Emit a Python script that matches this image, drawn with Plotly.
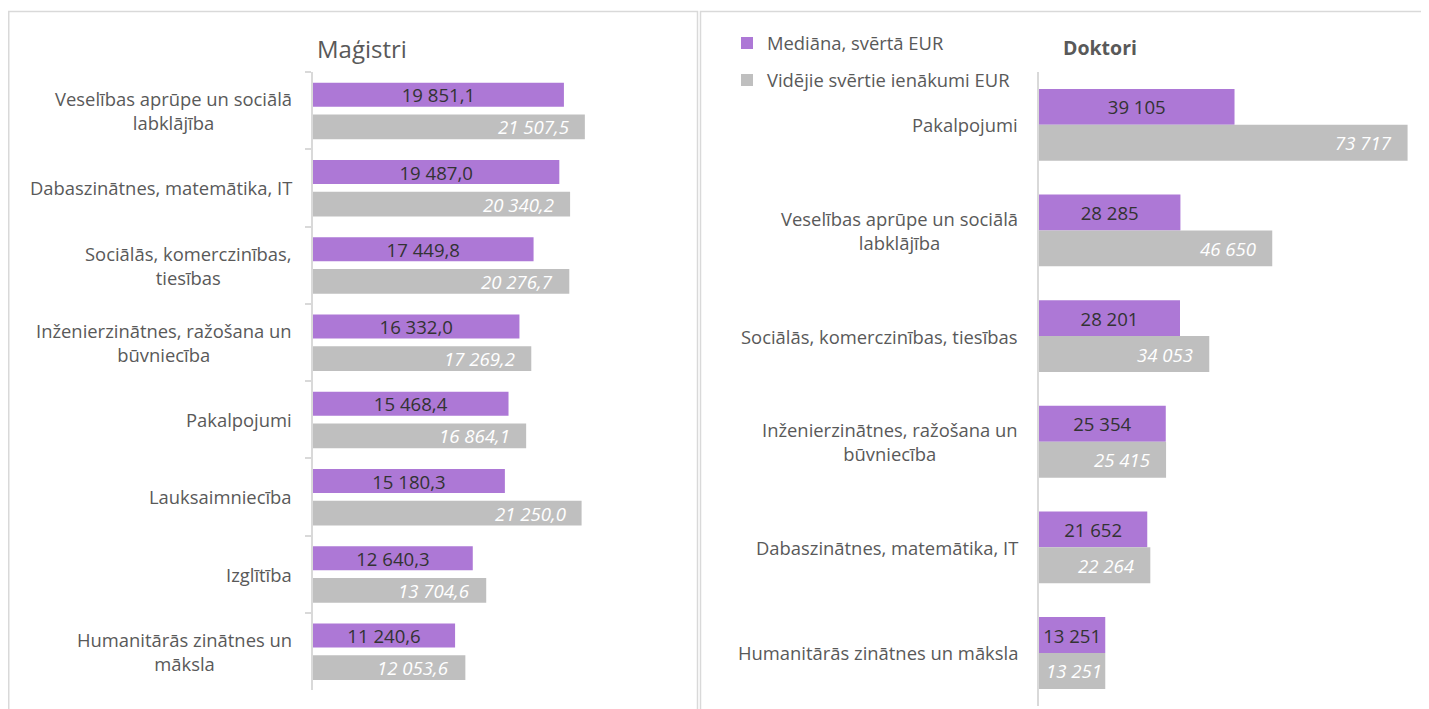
import plotly.graph_objects as go

# The page body has an 8 px margin, so the figure starts at (8, 8) in the window.
OX, OY = 8, 8
W, H = 1421, 701

# ---- data ----
mag_categories = [
    "Veselības aprūpe un sociālā<br>labklājība",
    "Dabaszinātnes, matemātika, IT",
    "Sociālās, komerczinības,<br>tiesības",
    "Inženierzinātnes, ražošana un<br>būvniecība",
    "Pakalpojumi",
    "Lauksaimniecība",
    "Izglītība",
    "Humanitārās zinātnes un<br>māksla",
]
mag_median = [19851.1, 19487.0, 17449.8, 16332.0, 15468.4, 15180.3, 12640.3, 11240.6]
mag_mean = [21507.5, 20340.2, 20276.7, 17269.2, 16864.1, 21250.0, 13704.6, 12053.6]

dok_categories = [
    "Pakalpojumi",
    "Veselības aprūpe un sociālā<br>labklājība",
    "Sociālās, komerczinības, tiesības",
    "Inženierzinātnes, ražošana un<br>būvniecība",
    "Dabaszinātnes, matemātika, IT",
    "Humanitārās zinātnes un māksla",
]
dok_median = [39105, 28285, 28201, 25354, 21652, 13251]
dok_mean = [73717, 46650, 34053, 25415, 22264, 13251]

series_names = ["Mediāna, svērtā EUR", "Vidējie svērtie ienākumi EUR"]

# ---- styles ----
PURPLE = "#AD78D6"
GREY = "#BFBFBF"
TXT = "#595959"
DARK = "#333333"
LINE = "#D9D9D9"
FONT = "Open Sans"
CAT_SIZE = 18.4
VAL_SIZE = 18.6

MAG_X0, MAG_X1, MAG_MAX = 313, 629, 25000
DOK_X0, DOK_X1, DOK_MAX = 1039, 1414, 75000


def fmt(v, d):
    s = f"{v:,.{d}f}"
    return s.replace(",", " ").replace(".", ",")


def px_x(p):
    return (p - OX) / W


def px_y(p):
    return 1 - (p - OY) / H


# rough Open Sans italic advance widths (em) for label fitting
def text_w(s, size):
    w = 0.0
    for ch in s:
        if ch.isdigit():
            w += 0.56
        elif ch == " ":
            w += 0.26
        else:
            w += 0.25
    return w * size


fig = go.Figure()

# Left panel (Maģistri)
fig.add_trace(go.Bar(
    y=mag_categories, x=mag_median, orientation="h", name=series_names[0],
    marker=dict(color=PURPLE, line=dict(width=0)),
    text=[fmt(v, 1) for v in mag_median], textposition="inside",
    insidetextanchor="middle", textfont=dict(color=DARK, size=VAL_SIZE, family=FONT),
    width=0.31, offset=-0.36, xaxis="x", yaxis="y", showlegend=False,
))
fig.add_trace(go.Bar(
    y=mag_categories, x=mag_mean, orientation="h", name=series_names[1],
    marker=dict(color=GREY, line=dict(width=0)),
    width=0.32, offset=0.05, xaxis="x", yaxis="y", showlegend=False,
))

# Right panel (Doktori)
fig.add_trace(go.Bar(
    y=dok_categories, x=dok_median, orientation="h", name=series_names[0],
    marker=dict(color=PURPLE, line=dict(width=0)),
    text=[fmt(v, 0) for v in dok_median], textposition="inside",
    insidetextanchor="middle", textfont=dict(color=DARK, size=VAL_SIZE, family=FONT),
    width=0.34, offset=-0.34, xaxis="x2", yaxis="y2", legend="legend",
))
fig.add_trace(go.Bar(
    y=dok_categories, x=dok_mean, orientation="h", name=series_names[1],
    marker=dict(color=GREY, line=dict(width=0)),
    width=0.34, offset=0.0, xaxis="x2", yaxis="y2", legend="legend2",
))

annotations = []

# grey (mean) value labels: inside end, centred if they do not fit
def grey_labels(cats, vals, dec, xref, yref, px_per_unit, off_center):
    for c, v in zip(cats, vals):
        s = fmt(v, dec)
        bar_px = v * px_per_unit
        tw = text_w(s, VAL_SIZE)
        if bar_px >= tw + 30:
            ax, xanchor, xs = v, "right", -14
        else:
            ax, xanchor, xs = v / 2, "center", 2
        annotations.append(dict(
            text=s, x=ax, xref=xref, y=c, yref=yref, xanchor=xanchor, xshift=xs,
            yanchor="middle", yshift=off_center, showarrow=False,
            font=dict(family=FONT, size=VAL_SIZE, color="white", style="italic"),
        ))


mag_band = (690 - 72) / len(mag_categories)
dok_band = (705.8 - 72) / len(dok_categories)
grey_labels(mag_categories, mag_mean, 1, "x", "y",
            (MAG_X1 - MAG_X0) / MAG_MAX, -(0.05 + 0.16) * mag_band)
grey_labels(dok_categories, dok_mean, 0, "x2", "y2",
            (DOK_X1 - DOK_X0) / DOK_MAX, -0.17 * dok_band)

for c in mag_categories:
    annotations.append(dict(
        text=c, x=px_x(294), xref="paper", y=c, yref="y", xanchor="right",
        yanchor="middle", align="center", showarrow=False,
        font=dict(family=FONT, size=CAT_SIZE, color=TXT),
    ))
for c in dok_categories:
    annotations.append(dict(
        text=c, x=px_x(1020), xref="paper", y=c, yref="y2", xanchor="right",
        yanchor="middle", align="center", showarrow=False,
        font=dict(family=FONT, size=CAT_SIZE, color=TXT),
    ))
annotations.append(dict(
    text="Maģistri", x=px_x(362), y=px_y(48), xref="paper", yref="paper",
    xanchor="center", yanchor="middle", showarrow=False,
    font=dict(family=FONT, size=24, color=TXT),
))
annotations.append(dict(
    text="<b>Doktori</b>", x=px_x(1100), y=px_y(47), xref="paper", yref="paper",
    xanchor="center", yanchor="middle", showarrow=False,
    font=dict(family=FONT, size=19.5, color=TXT),
))

shapes = [
    dict(type="rect", xref="paper", yref="paper", x0=px_x(8.75), x1=px_x(697.5),
         y0=px_y(716), y1=px_y(11.5), line=dict(color=LINE, width=1.5), layer="below"),
    dict(type="rect", xref="paper", yref="paper", x0=px_x(700.5), x1=px_x(1440),
         y0=px_y(716), y1=px_y(11.5), line=dict(color=LINE, width=1.5), layer="below"),
]

legend_common = dict(
    xanchor="left", yanchor="middle", bgcolor="rgba(0,0,0,0)",
    font=dict(family=FONT, size=18.4, color=TXT), itemwidth=30,
    itemclick=False, itemdoubleclick=False,
)

fig.update_layout(
    width=W, height=H,
    margin=dict(l=0, r=0, t=0, b=0),
    paper_bgcolor="white", plot_bgcolor="white",
    barmode="overlay",
    uniformtext=dict(minsize=17, mode="show"),
    xaxis=dict(domain=[px_x(MAG_X0), px_x(MAG_X1)], range=[0, MAG_MAX], visible=False,
               fixedrange=True),
    yaxis=dict(domain=[px_y(690), px_y(72)], type="category",
               range=[len(mag_categories) - 0.5, -0.5],
               showline=True, linecolor=LINE, linewidth=1.5,
               ticks="outside", tickson="boundaries", ticklen=6, tickcolor=LINE, tickwidth=1.5,
               showticklabels=False, showgrid=False, zeroline=False, fixedrange=True),
    xaxis2=dict(domain=[px_x(DOK_X0), px_x(DOK_X1)], range=[0, DOK_MAX], visible=False,
                anchor="y2", fixedrange=True),
    yaxis2=dict(domain=[px_y(705.8), px_y(72)], type="category", anchor="x2",
                range=[len(dok_categories) - 0.5, -0.5],
                showline=True, linecolor=LINE, linewidth=1.5, ticks="",
                showticklabels=False, showgrid=False, zeroline=False, fixedrange=True),
    legend=dict(x=px_x(727), y=px_y(43), **legend_common),
    legend2=dict(x=px_x(727), y=px_y(80), **legend_common),
    annotations=annotations,
    shapes=shapes,
    font=dict(family=FONT, color=TXT),
)

fig.write_html("out.html")
